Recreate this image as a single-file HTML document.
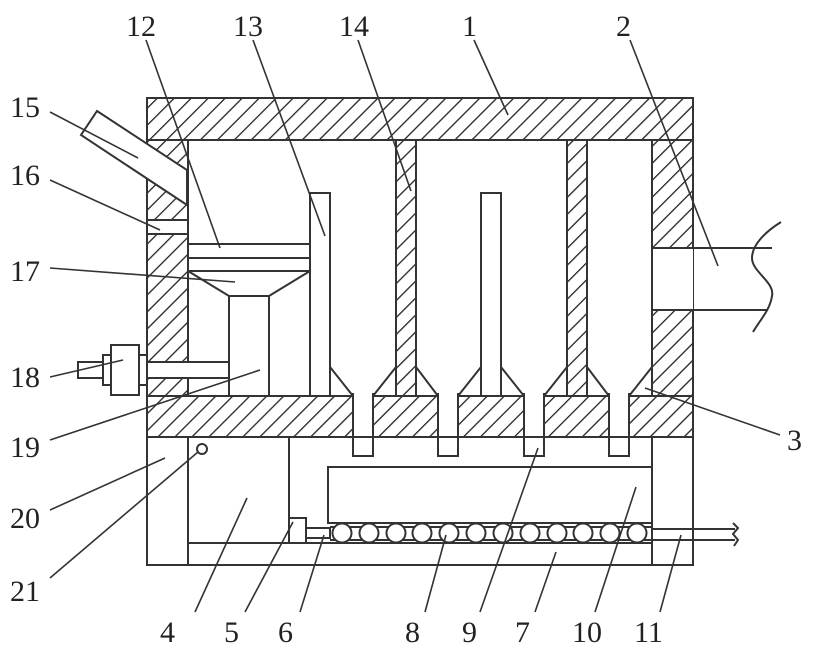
<!DOCTYPE html>
<html><head><meta charset="utf-8"><style>
html,body{margin:0;padding:0;background:#fff;width:817px;height:653px;overflow:hidden}
text{font-family:"Liberation Serif",serif;font-size:30px;fill:#222}
</style></head><body>
<svg width="817" height="653" viewBox="0 0 817 653" xmlns="http://www.w3.org/2000/svg">
<defs>
<pattern id="h" patternUnits="userSpaceOnUse" width="12" height="12" patternTransform="rotate(45)">
<rect width="12" height="12" fill="#fff"/>
<line x1="0" y1="0" x2="0" y2="12" stroke="#222" stroke-width="2.6"/>
</pattern>
</defs>
<g stroke="#333" stroke-width="2" fill="none">
<rect x="147" y="98" width="546" height="42" fill="url(#h)"/>
<rect x="147" y="140" width="41" height="256" fill="url(#h)"/>
<rect x="652" y="140" width="41" height="256" fill="url(#h)"/>
<rect x="147" y="396" width="546" height="41" fill="url(#h)"/>
<rect x="396" y="140" width="20" height="256" fill="url(#h)"/>
<rect x="567" y="140" width="20" height="256" fill="url(#h)"/>
<rect x="188" y="140" width="208" height="256" fill="#fff"/>
<rect x="416" y="140" width="151" height="256" fill="#fff"/>
<rect x="587" y="140" width="65" height="256" fill="#fff"/>
<rect x="353" y="394" width="20" height="62" fill="#fff"/>
<rect x="438" y="394" width="20" height="62" fill="#fff"/>
<rect x="524" y="394" width="20" height="62" fill="#fff"/>
<rect x="609" y="394" width="20" height="62" fill="#fff"/>
<rect x="354" y="393" width="18" height="6" fill="#fff" stroke="none"/>
<rect x="439" y="393" width="18" height="6" fill="#fff" stroke="none"/>
<rect x="525" y="393" width="18" height="6" fill="#fff" stroke="none"/>
<rect x="610" y="393" width="18" height="6" fill="#fff" stroke="none"/>
<path d="M330 367 L353 396 M396 367 L373 396 M416 367 L438 396 M481 367 L458 396 M501 367 L524 396 M567 367 L544 396 M587 367 L609 396 M652 367 L629 396"/>
<rect x="310" y="193" width="20" height="203" fill="#fff"/>
<rect x="481" y="193" width="20" height="203" fill="#fff"/>
<path d="M188 244 H310 M188 258 H310 M188 271 H310"/>
<path d="M188 271 L229 296 H269 L310 271 M229 296 V396 M269 296 V396"/>
<rect x="147" y="220" width="41" height="14" fill="#fff"/>
<polygon points="97,111 187,170 187,205 81,135" fill="#fff"/>
<rect x="147" y="362" width="82" height="16" fill="#fff"/>
<rect x="139" y="355" width="8" height="30" fill="#fff"/>
<rect x="111" y="345" width="28" height="50" fill="#fff"/>
<rect x="103" y="355" width="8" height="30" fill="#fff"/>
<rect x="78" y="362" width="25" height="16" fill="#fff"/>
<rect x="652" y="248" width="41" height="62" fill="#fff" stroke="none"/>
<path d="M652 248 V310 M652 248 H772 M652 310 H768"/>
<path d="M781 222 C765 232 752 245 752 258 C752 272 775 282 772 296 C770 310 760 320 753 332"/>
<rect x="147" y="437" width="546" height="128"/>
<path d="M188 437 V565 M289 437 V543 M652 437 V565 M188 543 H652"/>
<circle cx="202" cy="449" r="5"/>
<rect x="328" y="467" width="324" height="56"/>
<path d="M330 527 H652 M330 540 H652"/>
<rect x="289" y="518" width="17" height="25" fill="#fff"/>
<rect x="306" y="528" width="24" height="10" fill="#fff"/>
<g fill="#fff">
<circle cx="342" cy="533" r="9.5"/><circle cx="369" cy="533" r="9.5"/><circle cx="396" cy="533" r="9.5"/><circle cx="422" cy="533" r="9.5"/><circle cx="449" cy="533" r="9.5"/><circle cx="476" cy="533" r="9.5"/><circle cx="503" cy="533" r="9.5"/><circle cx="530" cy="533" r="9.5"/><circle cx="557" cy="533" r="9.5"/><circle cx="583" cy="533" r="9.5"/><circle cx="610" cy="533" r="9.5"/><circle cx="637" cy="533" r="9.5"/>
</g>
<path d="M652 529 H735 M652 540 H735 M733 523 L738 528 L733 534 L738 540 L734 546"/>
<path stroke-width="1.6" d="M146 40 L220 248 M253 40 L325 236 M358 40 L411 191 M474 40 L508 115 M630 40 L718 266 M50 112 L138 158 M50 180 L160 230 M50 268 L235 282 M50 377 L123 360 M50 440 L260 370 M50 510 L165 458 M50 578 L198 452 M780 435 L645 388 M195 612 L247 498 M245 612 L293 522 M300 612 L324 535 M425 612 L446 535 M480 612 L538 448 M535 612 L556 552 M595 612 L636 487 M660 612 L681 535"/>
</g>
<g>
<text x="126" y="36">12</text><text x="233" y="36">13</text><text x="339" y="36">14</text><text x="462" y="36">1</text><text x="616" y="36">2</text>
<text x="10" y="117">15</text><text x="10" y="185">16</text><text x="10" y="281">17</text><text x="10" y="387">18</text><text x="10" y="457">19</text><text x="10" y="528">20</text><text x="10" y="601">21</text>
<text x="787" y="450">3</text>
<text x="160" y="642">4</text><text x="224" y="642">5</text><text x="278" y="642">6</text><text x="405" y="642">8</text><text x="462" y="642">9</text><text x="515" y="642">7</text><text x="572" y="642">10</text><text x="634" y="642">11</text>
</g>
</svg>
</body></html>
